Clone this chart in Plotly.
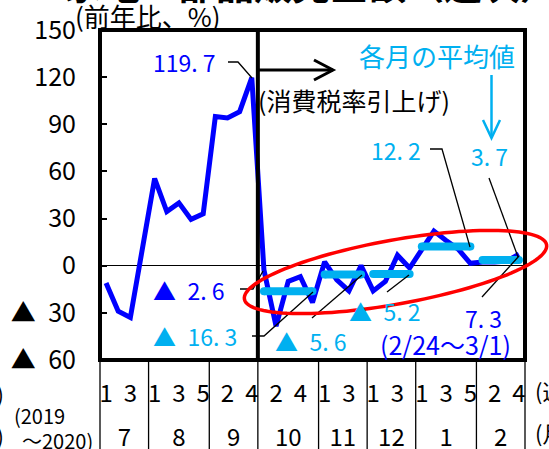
import math
import plotly.graph_objects as go

# ---- data -------------------------------------------------------------
month_labels = ["7", "8", "9", "10", "11", "12", "1", "2"]
weeks_per_month = [4, 5, 4, 5, 4, 4, 5, 4]
week_tick_labels = [["1", "3"], ["1", "3", "5"], ["2", "4"], ["2", "4"],
                    ["1", "3"], ["1", "3"], ["1", "3", "5"], ["2", "4"]]

# weekly year-on-year change (%), Jul 2019 wk1 .. Feb 2020 wk4
yoy_2019_07 = [-11.0, -29.0, -33.0, 11.0]
yoy_2019_08 = [55.5, 34.5, 40.0, 29.5, 33.0]
yoy_2019_09 = [95.0, 94.0, 98.0, 119.7]
yoy_2019_10 = [-2.6, -38.5, -10.0, -7.0, -23.4]
yoy_2019_11 = [2.5, -9.0, -16.0, 0.1]
yoy_2019_12 = [-16.0, -10.0, 6.7, -1.5]
yoy_2020_01 = [11.0, 22.0, 16.0, 10.5, 1.5]
yoy_2020_02 = [2.3, 2.3, 2.9, 7.3]

# monthly averages after the tax hike
avg_months = ["10", "11", "12", "1", "2"]
avg_values = [-16.3, -5.6, -5.2, 12.2, 3.7]

y_tickvals = [-60, -30, 0, 30, 60, 90, 120, 150]

# ---- layout geometry ----------------------------------------------------
W, H = 549, 449
L, R, T, B = 100, 24, 30, 89
PW, PH = W - L - R, H - T - B

def px(x):
    return (x - L) / PW

def py(y):
    return (H - B - y) / PH

BLUE = "#0000FF"
CYAN = "#00B0F0"
NARROW = "Liberation Sans Narrow, Arial Narrow, Noto Sans CJK JP, sans-serif"
JP = "Noto Sans CJK JP, sans-serif"

yoy = (yoy_2019_07 + yoy_2019_08 + yoy_2019_09 + yoy_2019_10 +
       yoy_2019_11 + yoy_2019_12 + yoy_2020_01 + yoy_2020_02)
n_weeks = len(yoy)
week_x = list(range(n_weeks))

starts = []
s = 0
for n in weeks_per_month:
    starts.append(s)
    s += n

week_tickvals, week_ticktext = [], []
for st, labels in zip(starts, week_tick_labels):
    for lab in labels:
        week_tickvals.append(st + int(lab) - 1)
        week_ticktext.append(lab)
month_centers = [st + (n - 1) / 2 for st, n in zip(starts, weeks_per_month)]


def fmt(v):
    txt = f"{abs(v):.1f}".replace(".", ". ")
    return ("▲\u2002" + txt) if v < 0 else txt


def ytick(v):
    return ("▲\u2002" + str(abs(v))) if v < 0 else str(v)


fig = go.Figure()

fig.add_trace(go.Scatter(
    x=week_x, y=yoy, mode="lines",
    line=dict(color=BLUE, width=5), showlegend=False, hoverinfo="skip"))

for m, v in zip(avg_months, avg_values):
    i = month_labels.index(m)
    x0, x1 = starts[i], starts[i] + weeks_per_month[i] - 1
    fig.add_trace(go.Scatter(
        x=[x0, x1], y=[v, v], mode="lines+markers",
        line=dict(color=CYAN, width=8),
        marker=dict(color=CYAN, size=8, line=dict(width=0)),
        showlegend=False, hoverinfo="skip"))

# carrier for the month-label axis
fig.add_trace(go.Scatter(
    x=[-0.5, n_weeks - 0.5], y=[0, 0], xaxis="x2", mode="markers",
    marker=dict(opacity=0, size=1), showlegend=False, hoverinfo="skip"))

shapes = []
# frame
shapes.append(dict(type="rect", xref="paper", yref="paper", x0=0, x1=1, y0=0, y1=1,
                   line=dict(color="black", width=4), layer="above"))
# month dividers under the plot
bounds = [st - 0.5 for st in starts] + [n_weeks - 0.5]
for b in bounds:
    xp = (b + 0.5) / n_weeks
    shapes.append(dict(type="line", xref="paper", yref="paper", x0=xp, x1=xp,
                       y0=0, y1=-B / PH, line=dict(color="black", width=1.3)))
# tax-hike divider (Sep / Oct)
xb = (starts[3] - 0.5 + 0.5) / n_weeks
shapes.append(dict(type="line", xref="paper", yref="paper", x0=xb, x1=xb, y0=0, y1=1,
                   line=dict(color="black", width=4), layer="above"))


def path(points):
    return "M " + " L ".join(f"{px(x):.5f},{py(y):.5f}" for x, y in points)


def add_path(points, color="black", width=1.3, closed=False):
    d = path(points) + (" Z" if closed else "")
    shapes.append(dict(type="path", xref="paper", yref="paper", path=d,
                       line=dict(color=color, width=width), layer="above"))


# black arrow
add_path([(257, 70), (333, 70)], width=3)
add_path([(314, 60), (333, 70), (314, 80)], width=3)
# cyan arrow
add_path([(491.5, 75), (491.5, 138)], color=CYAN, width=2.5)
add_path([(483, 120), (491.5, 138), (500, 120)], color=CYAN, width=2.5)

# leader lines
add_path([(228, 62), (238, 62), (252, 78)])
add_path([(240, 289), (253, 289), (263, 271)])
add_path([(252, 336), (264, 336), (313, 292)])
add_path([(312, 318), (362, 275)])
add_path([(387, 292), (409, 275)])
add_path([(430, 149), (442, 149), (470, 247)])
add_path([(489, 178), (518, 257)])
add_path([(482, 297), (519, 256)])

# red ellipse
cx, cy, a, b_, th = 395.5, 272.0, 153.5, 32.0, math.radians(-10.2)
pts = []
for k in range(121):
    t = 2 * math.pi * k / 120
    X = cx + a * math.cos(t) * math.cos(th) - b_ * math.sin(t) * math.sin(th)
    Y = cy + a * math.cos(t) * math.sin(th) + b_ * math.sin(t) * math.cos(th)
    pts.append((X, Y))
add_path(pts, color="#FF0000", width=3.5, closed=True)

annotations = []


def text(x, y, s, size=23, color="black", xanchor="left", yanchor="middle",
         family=JP, bold=False):
    annotations.append(dict(
        x=px(x), y=py(y), xref="paper", yref="paper", text=(f"<b>{s}</b>" if bold else s),
        showarrow=False, xanchor=xanchor, yanchor=yanchor,
        font=dict(size=size, color=color, family=family)))


text(62, 12, "家電・部品販売金額（週次）", size=38, yanchor="bottom", bold=True)
text(73, 15, "(前年比、%)", size=26)
text(218, 62, fmt(yoy[starts[2] + 3]), size=23, color=BLUE, xanchor="right")
text(256, 100, "(消費税率引上げ)", size=25)
text(357, 55, "各月の平均値", size=26, color=CYAN)
text(151, 290, fmt(yoy[starts[3]]), size=23, color=BLUE)
text(151, 336, fmt(avg_values[0]), size=23, color=CYAN)
text(273, 341, fmt(avg_values[1]), size=23, color=CYAN)
text(347, 311, fmt(avg_values[2]), size=23, color=CYAN)
text(369, 150, fmt(avg_values[3]), size=23, color=CYAN)
text(469, 156, fmt(avg_values[4]), size=23, color=CYAN)
text(463, 318, fmt(yoy[-1]), size=23, color=BLUE)
text(378, 344, "(2/24～3/1)", size=25, color=BLUE)
text(12, 415, "(2019", size=20, family=NARROW)
text(20, 440, "～2020)", size=20, family=NARROW)
text(6, 393, "(週)", size=22, xanchor="right")
text(6, 435, "(月)", size=22, xanchor="right")
text(533, 390, "(週)", size=22)
text(533, 432, "(月)", size=22)

fig.update_layout(
    width=W, height=H,
    margin=dict(l=L, r=R, t=T, b=B, pad=0, autoexpand=False),
    paper_bgcolor="white", plot_bgcolor="white",
    showlegend=False,
    shapes=shapes, annotations=annotations,
    xaxis=dict(range=[-0.5, n_weeks - 0.5], showgrid=False, zeroline=False,
               showline=False, ticks="", tickvals=week_tickvals, automargin=False,
               ticktext=week_ticktext, tickfont=dict(size=24, family=NARROW, color="black"),
               ticklabelstandoff=17, fixedrange=True),
    xaxis2=dict(range=[-0.5, n_weeks - 0.5], overlaying="x", anchor="y", side="bottom",
                showgrid=False, zeroline=False, showline=False, ticks="", automargin=False,
                tickvals=month_centers, ticktext=month_labels,
                tickfont=dict(size=24, family=NARROW, color="black"),
                ticklabelstandoff=61, fixedrange=True),
    yaxis=dict(range=[-60, 150], showgrid=False, zeroline=True, zerolinecolor="black",
               zerolinewidth=1.2, showline=False, ticks="inside", ticklen=7,
               tickwidth=1.5, tickcolor="black", tickvals=y_tickvals, automargin=False,
               ticktext=[ytick(v) for v in y_tickvals],
               tickfont=dict(size=25, family=NARROW, color="black"),
               ticklabelstandoff=23, fixedrange=True),
)

fig.write_html("out.html")
